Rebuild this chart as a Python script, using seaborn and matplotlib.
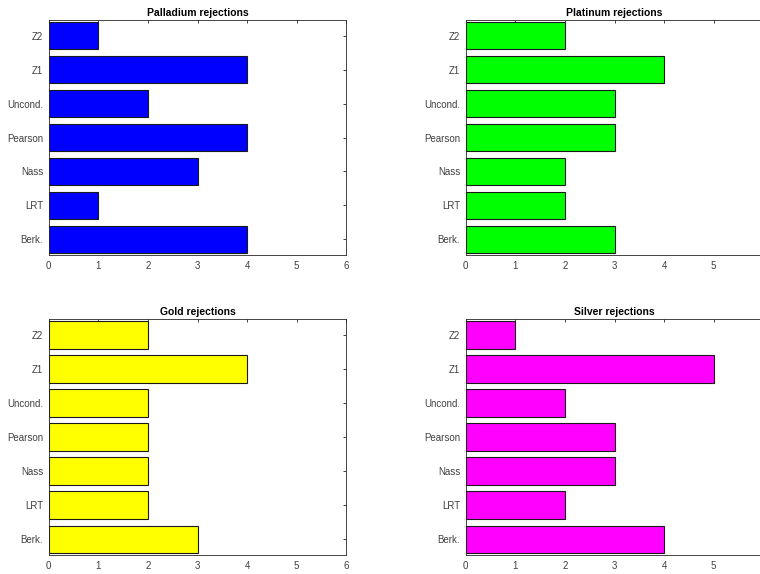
import matplotlib
matplotlib.use("Agg")
import matplotlib.pyplot as plt
import seaborn as sns
import pandas as pd

# Test names, listed top to bottom as drawn
tests = ["Z2", "Z1", "Uncond.", "Pearson", "Nass", "LRT", "Berk."]

palladium = [1, 4, 2, 4, 3, 1, 4]
platinum = [2, 4, 3, 3, 2, 2, 3]
gold = [2, 4, 2, 2, 2, 2, 3]
silver = [1, 5, 2, 3, 3, 2, 4]

titles = ["Palladium rejections", "Platinum rejections", "Gold rejections", "Silver rejections"]
colors = ["#0000FF", "#00FF00", "#FFFF00", "#FF00FF"]
x_ticks = [0, 1, 2, 3, 4, 5, 6]

sns.set_theme(style="white")
plt.rcParams["font.family"] = ["Liberation Sans", "DejaVu Sans"]

fig = plt.figure(figsize=(7.6, 5.74), dpi=100)

# axes rectangles in figure fractions: [left, bottom, width, height]
w = 297.6 / 760
rects = [
    [48.7 / 760, 0.5557, w, 0.4094],
    [465.7 / 760, 0.5557, w, 0.4094],
    [48.7 / 760, 0.0331, w, 0.4106],
    [465.7 / 760, 0.0331, w, 0.4106],
]

series = [palladium, platinum, gold, silver]
edge = "#262626"

for i, (rect, vals, title, col) in enumerate(zip(rects, series, titles, colors)):
    ax = fig.add_axes(rect)
    df = pd.DataFrame({"test": tests, "count": vals})
    sns.barplot(data=df, x="count", y="test", orient="h", order=tests,
                color=col, saturation=1, width=0.81,
                edgecolor="#1a1a1a", linewidth=0.8, ax=ax)
    ax.set_xlim(0, 6)
    ax.set_ylim(6.46, -0.46)
    ax.set_xticks(x_ticks)
    labels = [str(t) for t in x_ticks]
    if i % 2 == 1:
        # the right column runs past the figure edge, so its last label is left off
        labels[-1] = ""
    ax.set_xticklabels(labels)
    ax.set_xlabel("")
    ax.set_ylabel("")
    ax.set_title(title, fontsize=7.5, fontweight="bold", color="#000000", pad=3)
    ax.tick_params(axis="both", direction="in", length=2.5, width=0.6,
                   top=True, right=True, labelsize=7, colors=edge, pad=4)
    ax.tick_params(axis="both", labelcolor="#404040")
    for s in ax.spines.values():
        s.set_visible(True)
        s.set_color("#262626")
        s.set_linewidth(0.6)
    ax.grid(False)

fig.savefig("out.png", dpi=100)
